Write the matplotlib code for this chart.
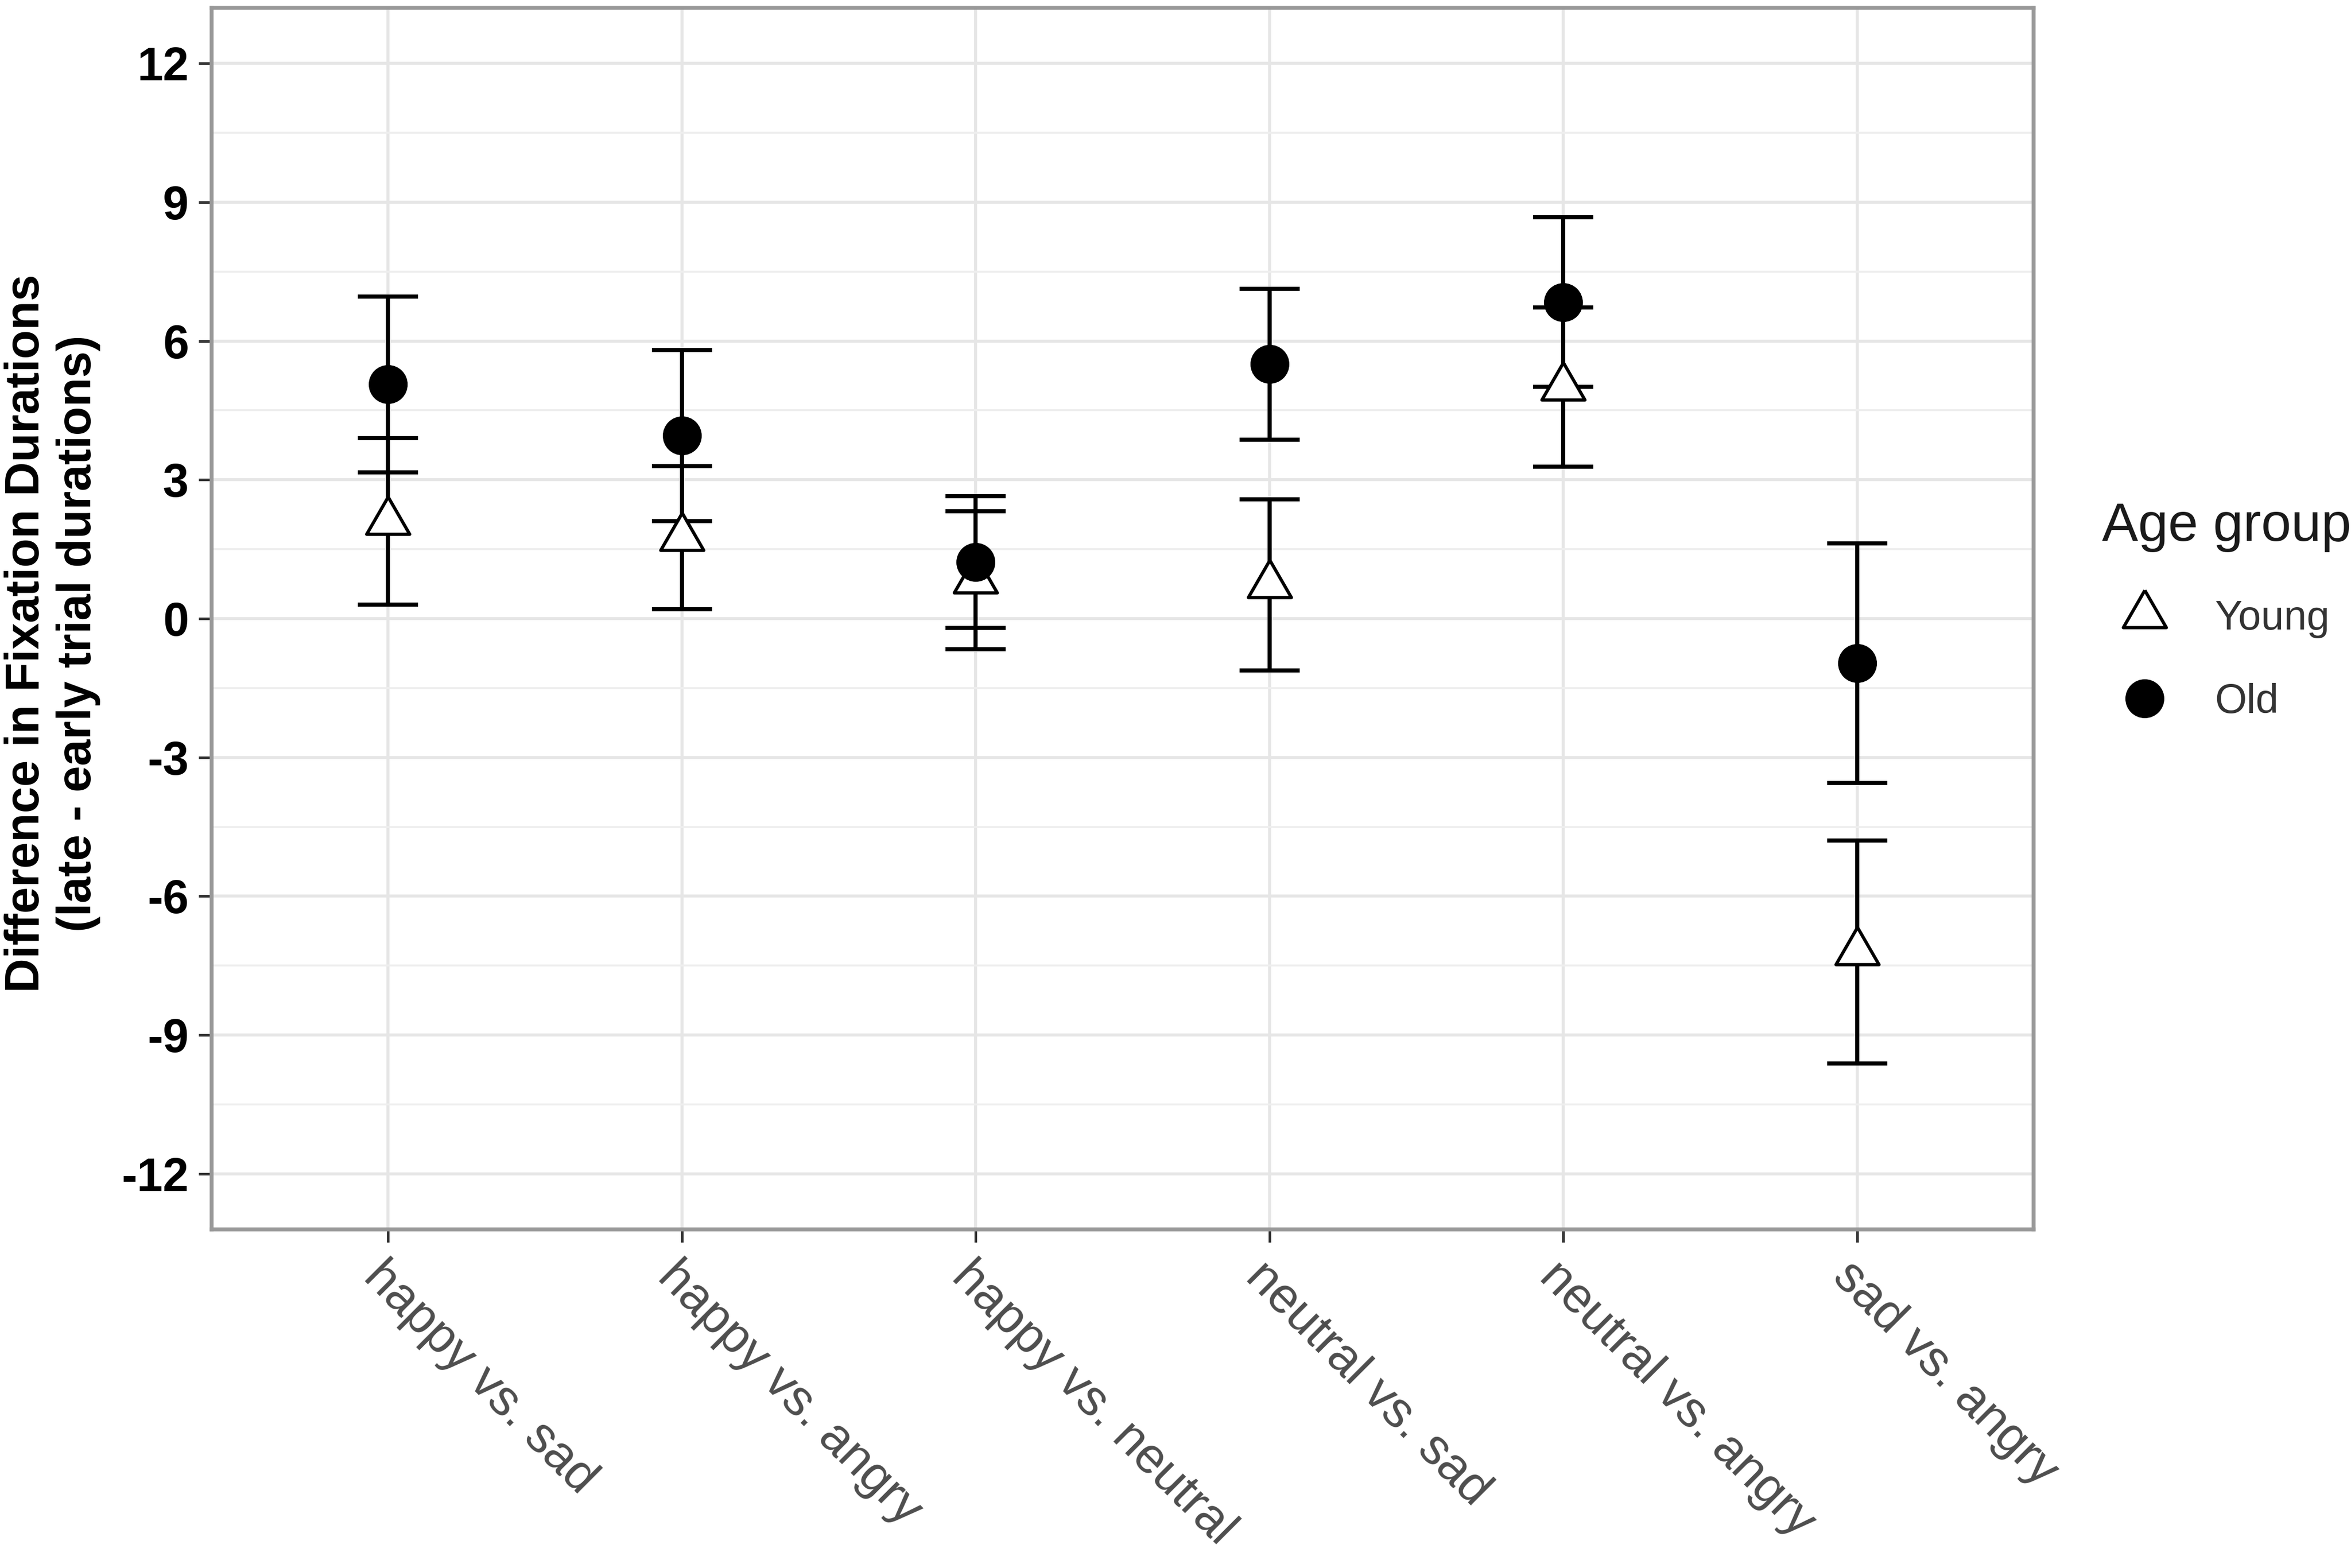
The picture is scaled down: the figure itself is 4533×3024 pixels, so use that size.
import numpy as np
import matplotlib
matplotlib.use("Agg")
import matplotlib.pyplot as plt
from matplotlib.lines import Line2D

plt.rcParams['font.family'] = ['Liberation Sans', 'DejaVu Sans']
plt.rcParams['axes.unicode_minus'] = False

# Data
categories = ['happy vs. sad', 'happy vs. angry', 'happy vs. neutral',
              'neutral vs. sad', 'neutral vs. angry', 'sad vs. angry']
young_mean = [2.10, 1.75, 0.83, 0.73, 5.00, -7.21]
young_se = [1.80, 1.55, 1.49, 1.85, 1.72, 2.41]
old_mean = [5.06, 3.96, 1.22, 5.50, 6.84, -0.96]
old_se = [1.90, 1.85, 1.42, 1.63, 1.83, 2.59]
y_ticks = [12, 9, 6, 3, 0, -3, -6, -9, -12]

x = np.arange(1, len(categories) + 1)

# equilateral triangle like R's pch 2 (centred on circumcentre)
tri = [(0, 1), (-0.866, -0.5), (0.866, -0.5), (0, 1)]

fig = plt.figure(figsize=(4533 / 300, 3024 / 300), dpi=300)
ax = fig.add_axes([0.090, 0.216, 0.775, 0.779])

# error bars
ax.errorbar(x, young_mean, yerr=young_se, fmt='none', ecolor='black',
            elinewidth=1.9, capsize=14, capthick=1.9, zorder=3)
ax.errorbar(x, old_mean, yerr=old_se, fmt='none', ecolor='black',
            elinewidth=1.9, capsize=14, capthick=1.9, zorder=3)

# points
ax.plot(x, young_mean, linestyle='none', marker=tri, markersize=23,
        markerfacecolor='white', markeredgecolor='black', markeredgewidth=1.5,
        zorder=4)
ax.plot(x, old_mean, linestyle='none', marker='o', markersize=17,
        markerfacecolor='black', markeredgecolor='black', zorder=5)

ax.set_xlim(0.4, 6.6)
ax.set_ylim(-13.2, 13.2)
ax.set_xticks(x)
ax.set_xticklabels(categories)
ax.set_yticks(y_ticks)
ax.set_yticks(np.arange(-10.5, 12, 3), minor=True)

ax.grid(True, which='major', color='#E6E6E6', linewidth=1.4)
ax.grid(True, which='minor', axis='y', color='#EEEEEE', linewidth=0.9)
ax.set_axisbelow(True)

for s in ax.spines.values():
    s.set_color('#999999')
    s.set_linewidth(1.8)

ax.tick_params(axis='y', which='major', length=6, width=1.2, color='#333333',
               labelsize=21.5, pad=4.5)
ax.tick_params(axis='y', which='minor', length=0)
ax.tick_params(axis='x', length=6, width=1.2, color='#333333',
               labelsize=23, labelcolor='#4D4D4D', pad=5)
for lab in ax.get_yticklabels():
    lab.set_fontweight('bold')

for lab in ax.get_xticklabels():
    lab.set_rotation(-45)
    lab.set_rotation_mode('anchor')
    lab.set_ha('left')
    lab.set_va('top')

ax.set_ylabel('Difference in Fixation Durations\n(late - early trial durations)',
              fontsize=22, fontweight='bold', linespacing=1.2)
ax.yaxis.set_label_coords(-0.061, 0.488)

# legend
handles = [
    Line2D([], [], linestyle='none', marker=tri, markersize=23,
           markerfacecolor='white', markeredgecolor='black', markeredgewidth=1.5),
    Line2D([], [], linestyle='none', marker='o', markersize=17,
           markerfacecolor='black', markeredgecolor='black'),
]
fig.text(0.8941, 0.6551, 'Age group', fontsize=25, ha='left', va='baseline',
         color='#1A1A1A')
leg = fig.legend(handles, ['Young', 'Old'], loc='center left',
                 bbox_to_anchor=(0.9034, 0.5787), frameon=False, fontsize=19,
                 handlelength=1.0, handletextpad=1.21, labelspacing=1.09,
                 borderpad=0, borderaxespad=0)
for t in leg.get_texts():
    t.set_color('#333333')

plt.savefig('out.png', dpi=300)
